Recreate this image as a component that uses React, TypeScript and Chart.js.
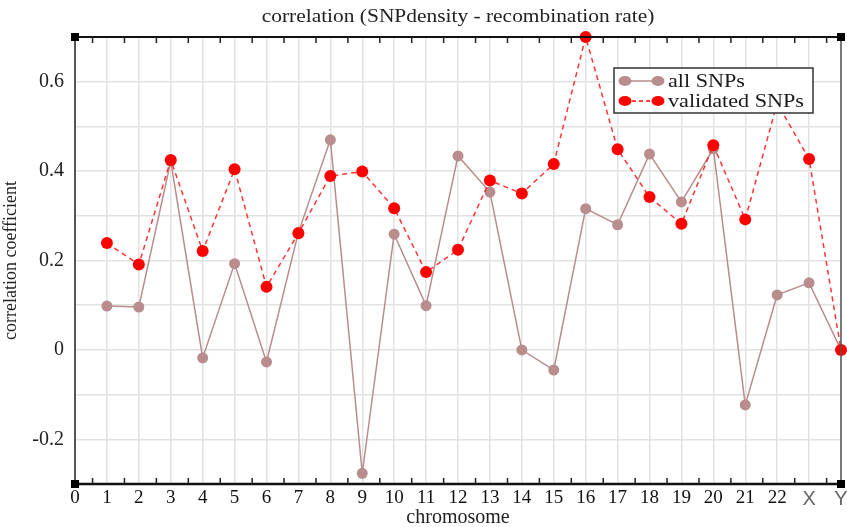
import React, { useEffect, useRef } from "react";
import { Chart, registerables } from "chart.js";

Chart.register(...registerables);

const chromosomePositions = [1, 2, 3, 4, 5, 6, 7, 8, 9, 10, 11, 12, 13, 14, 15, 16, 17, 18, 19, 20, 21, 22, 23, 24];
const tickLabels = ["0", "1", "2", "3", "4", "5", "6", "7", "8", "9", "10", "11", "12", "13", "14", "15", "16", "17", "18", "19", "20", "21", "22", "X", "Y"];
const allSNPs = [0.098, 0.096, 0.422, -0.018, 0.193, -0.027, 0.263, 0.47, -0.276, 0.259, 0.099, 0.434, 0.353, 0.0, -0.045, 0.316, 0.28, 0.438, 0.331, 0.45, -0.123, 0.123, 0.15, 0.0];
const validatedSNPs = [0.239, 0.191, 0.425, 0.221, 0.404, 0.141, 0.261, 0.389, 0.399, 0.317, 0.174, 0.224, 0.379, 0.35, 0.416, 0.7, 0.449, 0.342, 0.282, 0.458, 0.292, 0.552, 0.427, 0.0];
const yLabelValues = [0.6, 0.4, 0.2, 0, -0.2];

const TITLE = "correlation (SNPdensity - recombination rate)";
const BROWN = "#b98d8d";
const RED = "#ff0000";
const SERIF = "'Liberation Serif', 'Times New Roman', serif";

function scaledText(ctx: any, text: string, x: number, y: number, sx: number, align: "left" | "center") {
  ctx.save();
  ctx.translate(x, y);
  ctx.scale(sx, 1);
  ctx.textAlign = align;
  ctx.textBaseline = "middle";
  ctx.fillText(text, 0, 0);
  ctx.restore();
}

const framePlugin = {
  id: "frame",
  afterDraw(chart: any) {
    const { ctx, chartArea: a, scales } = chart;
    const x = scales.x;
    ctx.save();
    // title
    ctx.fillStyle = "#222";
    ctx.font = `18px ${SERIF}`;
    scaledText(ctx, TITLE, (a.left + a.right) / 2, 17, 1.19, "center");
    // borders
    ctx.strokeStyle = "#111";
    ctx.lineWidth = 2;
    ctx.beginPath();
    ctx.moveTo(a.left, a.top);
    ctx.lineTo(a.right, a.top);
    ctx.stroke();
    ctx.lineWidth = 2.5;
    ctx.beginPath();
    ctx.moveTo(a.left, a.bottom);
    ctx.lineTo(a.right, a.bottom);
    ctx.stroke();
    ctx.strokeStyle = "#555";
    ctx.lineWidth = 2;
    ctx.beginPath();
    ctx.moveTo(a.left, a.top);
    ctx.lineTo(a.left, a.bottom);
    ctx.stroke();
    ctx.lineWidth = 1.5;
    ctx.beginPath();
    ctx.moveTo(a.right, a.top);
    ctx.lineTo(a.right, a.bottom);
    ctx.stroke();
    // inward tick marks
    ctx.strokeStyle = "#222";
    ctx.lineWidth = 1.5;
    for (let i = 0; i < 24; i++) {
      const px = x.getPixelForValue(i + 0.55);
      ctx.beginPath();
      ctx.moveTo(px, a.top);
      ctx.lineTo(px, a.top + 6);
      ctx.moveTo(px, a.bottom);
      ctx.lineTo(px, a.bottom - 6);
      ctx.stroke();
    }
    // corner squares
    ctx.fillStyle = "#000";
    const s = 8;
    [[a.left, a.top], [a.right, a.top], [a.left, a.bottom], [a.right, a.bottom]].forEach(([cx, cy]) => {
      ctx.fillRect(cx - s / 2, cy - s / 2, s, s);
    });
    // legend
    const lx = 614, ly = 68, lw = 199, lh = 45;
    ctx.fillStyle = "#fff";
    ctx.fillRect(lx, ly, lw, lh);
    ctx.strokeStyle = "#333";
    ctx.lineWidth = 1.5;
    ctx.strokeRect(lx, ly, lw, lh);
    const rows = [
      { label: "all SNPs", color: BROWN, dash: [] as number[], y: ly + 13 },
      { label: "validated SNPs", color: RED, dash: [4, 3], y: ly + 33 },
    ];
    rows.forEach((r) => {
      ctx.strokeStyle = r.color;
      ctx.lineWidth = 1.5;
      ctx.setLineDash(r.dash);
      ctx.beginPath();
      ctx.moveTo(lx + 11, r.y);
      ctx.lineTo(lx + 44, r.y);
      ctx.stroke();
      ctx.setLineDash([]);
      ctx.fillStyle = r.color;
      [lx + 11, lx + 44].forEach((mx) => {
        ctx.beginPath();
        ctx.ellipse(mx, r.y, 6.5, 5, 0, 0, Math.PI * 2);
        ctx.fill();
      });
      ctx.fillStyle = "#1a1a1a";
      ctx.font = `18px ${SERIF}`;
      scaledText(ctx, r.label, lx + 54, r.y + 1, 1.23, "left");
    });
    ctx.restore();
  },
};

export default function App() {
  const ref = useRef<HTMLCanvasElement | null>(null);
  useEffect(() => {
    if (!ref.current) return;
    const chart = new Chart(ref.current, {
      type: "line",
      data: {
        datasets: [
          {
            label: "all SNPs",
            data: chromosomePositions.map((c, i) => ({ x: c, y: allSNPs[i] })),
            borderColor: BROWN,
            backgroundColor: BROWN,
            borderWidth: 1.5,
            pointStyle: "circle",
            pointRadius: 5.5,
            pointHoverRadius: 5.5,
            pointBorderWidth: 0,
            tension: 0,
            clip: false,
            order: 1,
          },
          {
            label: "validated SNPs",
            data: chromosomePositions.map((c, i) => ({ x: c, y: validatedSNPs[i] })),
            borderColor: "rgba(255,30,30,0.9)",
            backgroundColor: RED,
            borderWidth: 1.5,
            borderDash: [5, 4],
            pointStyle: "circle",
            pointRadius: 6,
            pointHoverRadius: 6,
            pointBorderWidth: 0,
            tension: 0,
            clip: false,
            order: 0,
          },
        ],
      },
      options: {
        animation: false,
        responsive: false,
        devicePixelRatio: 1,
        layout: { padding: { top: 37, right: 4, left: 0, bottom: 0 } },
        plugins: { legend: { display: false }, title: { display: false }, tooltip: { enabled: false } },
        scales: {
          x: {
            type: "linear",
            min: 0,
            max: 24,
            afterBuildTicks: (s: any) => {
              s.ticks = tickLabels.map((_, i) => ({ value: i }));
            },
            afterFit: (s: any) => {
              s.height = 43;
              s.paddingLeft = 0;
              s.paddingRight = 0;
            },
            ticks: {
              autoSkip: false,
              maxRotation: 0,
              padding: 3,
              callback: (v: any) => tickLabels[Math.round(Number(v))] ?? "",
              color: (ctx: any) => (ctx.index >= 23 ? "#666" : "#111"),
              font: (ctx: any) =>
                ctx.index >= 23
                  ? { family: "'Liberation Sans Narrow', 'Liberation Sans', sans-serif", size: 20 }
                  : { family: SERIF, size: 19 },
            },
            grid: { color: "#e2e2e2", lineWidth: 1.5, drawTicks: false },
            border: { display: false },
            title: {
              display: true,
              text: "chromosome",
              color: "#222",
              font: { family: SERIF, size: 20 },
              padding: { top: 0, bottom: -3 },
            },
          },
          y: {
            type: "linear",
            min: -0.3,
            max: 0.7,
            afterBuildTicks: (s: any) => {
              const t = [];
              for (let k = -3; k <= 7; k++) t.push({ value: k / 10 });
              s.ticks = t;
            },
            afterFit: (s: any) => {
              s.width = 75;
              s.paddingTop = 0;
              s.paddingBottom = 0;
            },
            ticks: {
              padding: 11,
              color: "#222",
              font: { family: SERIF, size: 20 },
              callback: (v: any) => {
                const r = Math.round(Number(v) * 10) / 10;
                return yLabelValues.some((y) => Math.abs(y - r) < 1e-9) ? String(r) : "";
              },
            },
            grid: { color: "#e2e2e2", lineWidth: 1.5, drawTicks: false },
            border: { display: false },
            title: {
              display: true,
              text: "correlation coefficient",
              color: "#222",
              font: { family: SERIF, size: 18 },
              padding: { top: 0, bottom: 0 },
            },
          },
        },
      },
      plugins: [framePlugin],
    } as any);
    return () => chart.destroy();
  }, []);
  return (
    <div style={{ position: "absolute", left: 0, top: 0, width: 847, height: 527, background: "#fff" }}>
      <canvas ref={ref} width={847} height={527} />
    </div>
  );
}
